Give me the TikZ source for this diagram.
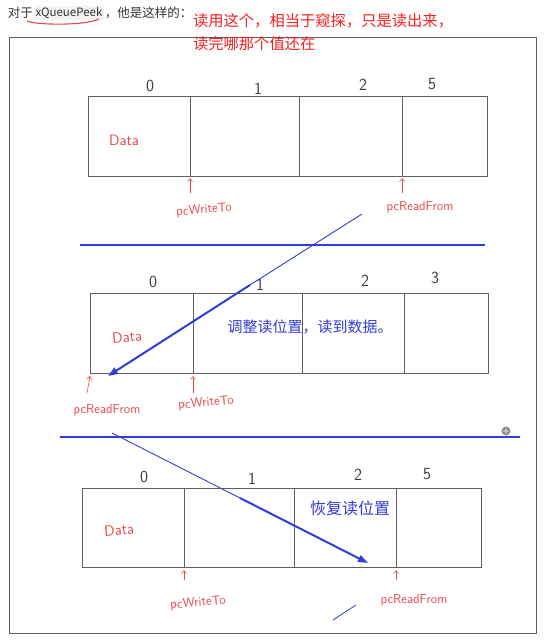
\documentclass[tikz,border=0pt]{standalone}
\usepackage{fontspec}
\newfontfamily\cjk{Noto Sans CJK SC}
\usetikzlibrary{arrows.meta,positioning}
\definecolor{handred}{RGB}{232,70,70}
\definecolor{notered}{RGB}{250,30,30}
\definecolor{pen}{RGB}{50,60,215}
\definecolor{edgegray}{RGB}{95,95,95}

\begin{document}
\begin{tikzpicture}[x=1pt, y=-1pt, every node/.style={inner sep=0pt, outer sep=0pt},
	cell/.style={draw=edgegray, line width=0.8pt, minimum height=80pt, anchor=north west},
	idx/.style={font=\sffamily\fontsize{17}{17}\selectfont, text=black!75},
	hand/.style={text=handred, font=\sffamily\fontsize{13}{13}\selectfont},
	ptr/.style={draw=handred, line width=0.6pt, -{Straight Barb[length=3pt,width=5pt]}},
	note/.style={text=pen, font=\cjk\fontsize{15}{15}\selectfont},
	sweep/.style={draw=pen, line width=2pt, -{Triangle[length=10pt,width=7pt]}}]
			\useasboundingbox (0,0) rectangle (554,643);
			
			% header
			\node[anchor=west, font=\cjk\fontsize{12.5}{12.5}\selectfont, text=black!80] (hdr) at (8,13) {对于};
			\node[right=1pt of hdr, font=\cjk\fontsize{11.5}{11.5}\selectfont, fill=black!5, rounded corners=2pt, inner sep=1.5pt, text=black!80] (code) {xQueuePeek};
			\node[right=1pt of code, font=\cjk\fontsize{12.5}{12.5}\selectfont, text=black!80] (hdr2) {，他是这样的：};
			\draw[handred, line width=1.1pt] (27,21) .. controls (35,25) and (85,26) .. (99,19);
			
			\draw[edgegray, line width=1pt] (9,37) rectangle (536,633);
			
			\node[anchor=west, text=notered, font=\cjk\fontsize{15.3}{15.3}\selectfont] (rem1) at (193,21) {读用这个，相当于窥探，只是读出来，};
			\node[anchor=west, text=notered, font=\cjk\fontsize{15.3}{15.3}\selectfont] (rem2) at (193,44) {读完哪那个值还在};
			
			% first queue
			\node[cell, minimum width=102pt] (a0) at (88,96) {};
			\node[cell, minimum width=109pt] (a1) at (a0.north east) {};
			\node[cell, minimum width=103pt] (a2) at (a1.north east) {};
			\node[cell, minimum width=85pt] (a3) at (a2.north east) {};
			\node[idx] (ai0) at (150,86) {0};
			\node[idx] (ai1) at (258,89) {1};
			\node[idx] (ai2) at (363,85) {2};
			\node[idx] (ai3) at (432,84) {5};
			\node[hand, font=\sffamily\fontsize{15}{15}\selectfont] (adata) at (124,140) {Data};
			\node[hand, rotate=5] (awr) at (204,210) {pcWriteTo};
			\node[hand] (ard) at (420,207) {pcReadFrom};
			\coordinate (awt) at (190,193);
			\coordinate (art) at (402,193);
			\draw[ptr] (awt) -- ([yshift=-2pt]a0.south east);
			\draw[ptr] (art) -- ([yshift=-2pt]a2.south east);
			
			\draw[pen, line width=1.2pt] (80,245) -- (485,245);
			
			% second queue
			\node[cell, minimum width=103pt] (b0) at (90,293) {};
			\node[cell, minimum width=109pt] (b1) at (b0.north east) {};
			\node[cell, minimum width=102pt] (b2) at (b1.north east) {};
			\node[cell, minimum width=84pt] (b3) at (b2.north east) {};
			\node[idx] (bi0) at (153,282) {0};
			\node[idx] (bi1) at (260,285) {1};
			\node[idx] (bi2) at (365,281) {2};
			\node[idx] (bi3) at (435,278) {3};
			\node[hand, rotate=5, font=\sffamily\fontsize{15}{15}\selectfont] (bdata) at (127,337) {Data};
			\node[note] (adjust) at (310,327) {调整读位置，读到数据。};
			\node[hand] (brd) at (107,410) {pcReadFrom};
			\node[hand, rotate=5] (bwr) at (206,403) {pcWriteTo};
			\coordinate (brt) at (87,393);
			\coordinate (bwt) at (193,393);
			\draw[ptr] (brt) -- ([yshift=-3pt]b0.south west);
			\draw[ptr] (bwt) -- ([yshift=-3pt]b0.south east);
			
			\coordinate (s1) at (362,214);
			\coordinate (m1) at (250,285);
			\coordinate (e1) at (108,376);
			\draw[pen, line width=0.9pt] (s1) -- (m1);
			\draw[sweep] (m1) -- (e1);
			
			\draw[pen, line width=1.9pt] (60,437) -- (520,437);
			\node[circle, fill=black!45, minimum size=8pt, text=white, font=\sffamily\bfseries\fontsize{8}{8}\selectfont] (plus) at (506,431) {+};
			
			% third queue
			\node[cell, minimum width=102pt, minimum height=79pt] (c0) at (82,488) {};
			\node[cell, minimum width=110pt, minimum height=79pt] (c1) at (c0.north east) {};
			\node[cell, minimum width=102pt, minimum height=79pt] (c2) at (c1.north east) {};
			\node[cell, minimum width=85pt, minimum height=79pt] (c3) at (c2.north east) {};
			\node[idx] (ci0) at (144,477) {0};
			\node[idx] (ci1) at (252,479) {1};
			\node[idx] (ci2) at (358,475) {2};
			\node[idx] (ci3) at (427,474) {5};
			\node[hand, rotate=5, font=\sffamily\fontsize{15}{15}\selectfont] (cdata) at (119,530) {Data};
			\node[note, font=\cjk\fontsize{16}{16}\selectfont] (restore) at (350,508) {恢复读位置};
			\node[hand, rotate=5] (cwr) at (198,603) {pcWriteTo};
			\node[hand] (crd) at (414,600) {pcReadFrom};
			\coordinate (cwt) at (184,580);
			\coordinate (crt) at (396,580);
			\draw[ptr] (cwt) -- ([yshift=-3pt]c0.south east);
			\draw[ptr] (crt) -- ([yshift=-3pt]c2.south east);
			
			\coordinate (s2) at (112,433);
			\coordinate (m2) at (240,498);
			\coordinate (e2) at (368,563);
			\draw[pen, line width=0.9pt] (s2) -- (m2);
			\draw[sweep] (m2) -- (e2);
			
			\draw[pen, line width=0.8pt] (333,620) -- (356,605);
\end{tikzpicture}
\end{document}
